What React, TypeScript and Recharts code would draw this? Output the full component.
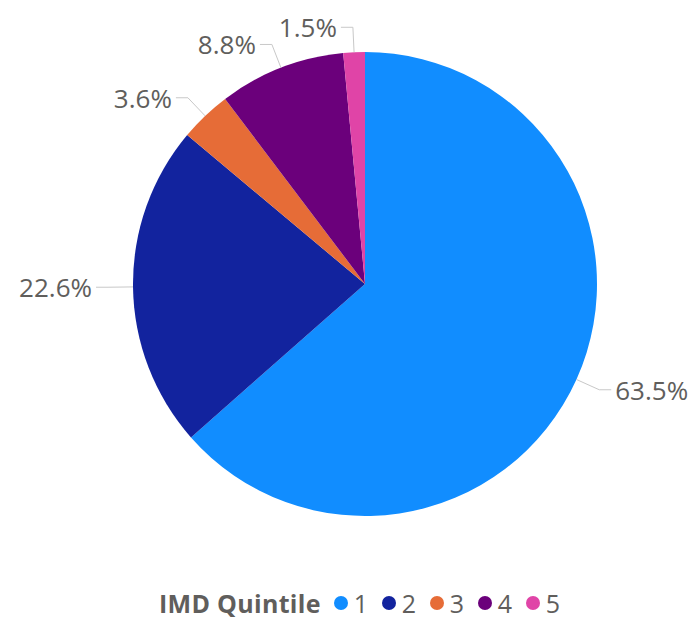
import React from 'react';
import { PieChart, Pie, Cell, Legend } from 'recharts';

const categories = ['1', '2', '3', '4', '5'];
const shares = [63.5, 22.6, 3.6, 8.8, 1.5];
const colors = ['#118DFF', '#12239E', '#E66C37', '#6B007B', '#E044A7'];
const legendTitle = 'IMD Quintile';

const data = categories.map((c, i) => ({ name: c, value: shares[i] }));

const FONT = '"Open Sans", "Noto Sans", sans-serif';
const TEXT = '#605E5C';
const RAD = Math.PI / 180;

const renderLabel = (props: any) => {
  const { cx, cy, midAngle, outerRadius, value } = props;
  const cos = Math.cos(-midAngle * RAD);
  const sin = Math.sin(-midAngle * RAD);
  const x1 = cx + outerRadius * cos;
  const y1 = cy + outerRadius * sin;
  const x2 = cx + (outerRadius + 25) * cos;
  const y2 = cy + (outerRadius + 25) * sin;
  const right = cos >= 0;
  const x3 = x2 + (right ? 12 : -12);
  const tx = x3 + (right ? 4 : -4);
  return (
    <g>
      <polyline points={`${x1},${y1} ${x2},${y2} ${x3},${y2}`} fill="none" stroke="#C8C8C8" strokeWidth={1} />
      <text x={tx} y={y2} textAnchor={right ? 'start' : 'end'} dominantBaseline="central" fill={TEXT} fontFamily={FONT} fontSize={26}>
        {value.toFixed(1)}%
      </text>
    </g>
  );
};

const renderLegend = () => (
  <div style={{ display: 'flex', alignItems: 'center', paddingLeft: 159, fontFamily: FONT, color: TEXT, height: 24 }}>
    <span style={{ fontWeight: 700, fontSize: 25, lineHeight: '24px', marginRight: 13, whiteSpace: 'nowrap', letterSpacing: 0.3 }}>{legendTitle}</span>
    {categories.map((c, i) => (
      <span key={c} style={{ display: 'flex', alignItems: 'center', marginRight: 14 }}>
        <span style={{ display: 'inline-block', width: 14, height: 14, borderRadius: '50%', background: colors[i], marginRight: 6 }} />
        <span style={{ fontSize: 25, lineHeight: '24px', display: 'inline-block', width: 14 }}>{c}</span>
      </span>
    ))}
  </div>
);

export default function App() {
  return (
    <div style={{ position: 'absolute', left: 0, top: 0, width: 694, height: 620, background: '#fff' }}>
      <PieChart width={694} height={620} margin={{ top: 0, right: 0, bottom: 0, left: 0 }}>
        <Pie
          data={data}
          dataKey="value"
          nameKey="name"
          cx={365}
          cy={284}
          outerRadius={232}
          startAngle={90}
          endAngle={-270}
          stroke="none"
          label={renderLabel}
          labelLine={false}
          isAnimationActive={false}
        >
          {data.map((d, i) => (
            <Cell key={d.name} fill={colors[i]} />
          ))}
        </Pie>
        <Legend content={renderLegend} wrapperStyle={{ position: 'absolute', top: 591, left: 0, width: 694, height: 24 }} />
      </PieChart>
    </div>
  );
}
